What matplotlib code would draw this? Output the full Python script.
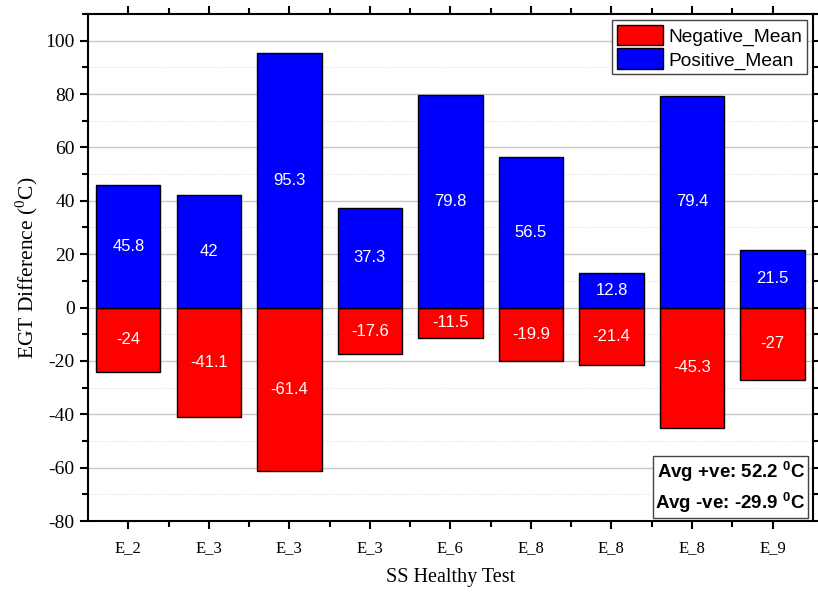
import matplotlib.pyplot as plt
from matplotlib.ticker import MultipleLocator, FixedLocator

# data
tests = ["E_2", "E_3", "E_3", "E_3", "E_6", "E_8", "E_8", "E_8", "E_9"]
positive_mean = [45.8, 42, 95.3, 37.3, 79.8, 56.5, 12.8, 79.4, 21.5]
negative_mean = [-24, -41.1, -61.4, -17.6, -11.5, -19.9, -21.4, -45.3, -27]
avg_pos = 52.2
avg_neg = -29.9

serif = "Liberation Serif"
sans = "Liberation Sans"
plt.rcParams["axes.unicode_minus"] = False

fig = plt.figure(figsize=(8.18, 5.93), dpi=100)
ax = fig.add_axes([0.1076, 0.1214, 0.886, 0.855])

x = list(range(1, len(tests) + 1))
neg_bars = ax.bar(x, negative_mean, width=0.8, color="#ff0000", edgecolor="black",
                  linewidth=1, label="Negative_Mean", zorder=3)
pos_bars = ax.bar(x, positive_mean, width=0.8, color="#0000ff", edgecolor="black",
                  linewidth=1, label="Positive_Mean", zorder=3)

# value labels in the middle of each bar
for xi, v in zip(x, positive_mean):
    ax.text(xi, v / 2, f"{v:g}", ha="center", va="center", color="white",
            fontsize=12, family=sans, zorder=4)
for xi, v in zip(x, negative_mean):
    ax.text(xi, v / 2, f"{v:g}", ha="center", va="center", color="white",
            fontsize=12, family=sans, zorder=4)

ax.set_xlim(0.5, len(tests) + 0.5)
ax.set_ylim(-80, 110)
ax.set_xticks(x)
ax.set_xticklabels(tests, family=serif, fontsize=12)
ax.xaxis.set_minor_locator(FixedLocator([i + 0.5 for i in x[:-1]]))
ax.yaxis.set_major_locator(MultipleLocator(20))
ax.yaxis.set_minor_locator(MultipleLocator(10))
for lab in ax.get_yticklabels():
    lab.set_family(serif)
    lab.set_fontsize(14)

ax.tick_params(which="both", direction="out", top=True, right=True, width=1.5)
ax.tick_params(which="major", length=6)
ax.tick_params(which="minor", length=4)
ax.tick_params(axis="x", which="major", pad=8)
for s in ax.spines.values():
    s.set_linewidth(1.5)

ax.grid(axis="y", which="major", color="#c8c8c8", linewidth=1, zorder=0)
ax.grid(axis="y", which="minor", color="#dddddd", linewidth=0.8, linestyle=":", zorder=0)
ax.set_axisbelow(True)

ax.set_xlabel("SS Healthy Test", family=serif, fontsize=14.5, labelpad=8)
ax.set_ylabel("EGT Difference ($^{\\mathregular{0}}$C)", family=serif, fontsize=15.5, labelpad=4)

leg = ax.legend(handles=[neg_bars, pos_bars], loc="upper right",
                prop={"family": sans, "size": 13.8}, fancybox=False,
                edgecolor="#444444", framealpha=1, handlelength=2.4, handleheight=1.3,
                borderaxespad=0.3, borderpad=0.25, labelspacing=0.15, handletextpad=0.3)
leg.get_frame().set_linewidth(1)

ax.text(0.99, 0.012,
        f"Avg +ve: {avg_pos} $^{{\\mathregular{{0}}}}$C\nAvg -ve: {avg_neg} $^{{\\mathregular{{0}}}}$C",
        transform=ax.transAxes, ha="right", va="bottom", family=sans,
        fontsize=13.5, fontweight="bold", linespacing=1.35, zorder=5,
        bbox=dict(boxstyle="square,pad=0.15", facecolor="white", edgecolor="#444444"))

fig.savefig("out.png", dpi=100)
